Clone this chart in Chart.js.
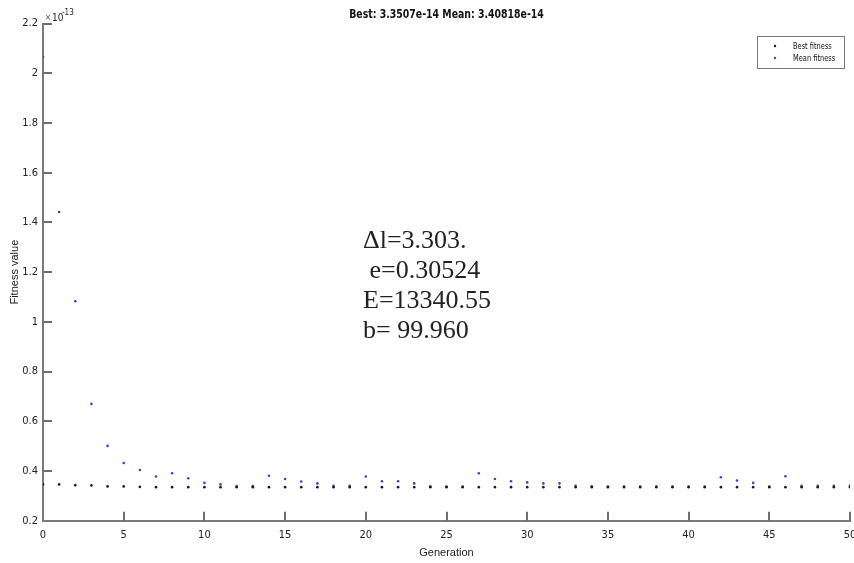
<!DOCTYPE html>
<html>
<head>
<meta charset="utf-8">
<script src="https://cdn.jsdelivr.net/npm/chart.js"></script>
<style>
  html, body { margin: 0; padding: 0; background: #fff; }
  #wrap { width: 854px; height: 563px; }
</style>
</head>
<body>
<div id="wrap"><canvas id="myChart" width="854" height="563"></canvas></div>
<script>
'use strict';

// generations 0..50
var generations = [0,1,2,3,4,5,6,7,8,9,10,11,12,13,14,15,16,17,18,19,20,
  21,22,23,24,25,26,27,28,29,30,31,32,33,34,35,36,37,38,39,40,
  41,42,43,44,45,46,47,48,49,50];

// fitness values, in units of 1e-13
var bestFitness = [0.346,0.346,0.343,0.342,0.338,0.338,0.336,0.335,0.335,0.335,0.335,
  0.335,0.335,0.335,0.335,0.335,0.335,0.335,0.335,0.335,0.335,
  0.335,0.335,0.335,0.335,0.335,0.335,0.335,0.335,0.335,0.335,
  0.335,0.335,0.335,0.335,0.335,0.335,0.335,0.335,0.335,0.335,
  0.335,0.335,0.335,0.335,0.335,0.335,0.335,0.335,0.335,0.335];
var meanFitness = [2.066,1.442,1.083,0.670,0.501,0.432,0.404,0.378,0.391,0.371,0.352,
  0.346,0.339,0.339,0.381,0.368,0.358,0.350,0.340,0.340,0.378,
  0.359,0.359,0.350,0.338,0.337,0.337,0.391,0.368,0.359,0.354,
  0.350,0.350,0.340,0.338,0.337,0.337,0.337,0.337,0.337,0.337,
  0.337,0.375,0.362,0.352,0.337,0.379,0.340,0.340,0.340,0.341];

var seriesNames = ['Best fitness', 'Mean fitness'];
var seriesColors = ['#1a1a1a', '#4040c4'];
var yTicks = [0.2,0.4,0.6,0.8,1,1.2,1.4,1.6,1.8,2,2.2];
var xTicks = [0,5,10,15,20,25,30,35,40,45,50];
var titleText = 'Best: 3.3507e-14 Mean: 3.40818e-14';
var noteLines = ['\u0394l=3.303.', ' e=0.30524', 'E=13340.55', 'b= 99.960'];

var narrow = '"Liberation Sans Narrow", "DejaVu Sans Condensed", "Liberation Sans", sans-serif';

function toPoints(ys) {
  return generations.map(function (g, i) { return {x: g, y: ys[i]}; });
}

// draw text squeezed horizontally (matlab's narrow figure font)
function squeezed(c, s, x, y, k, align) {
  c.save();
  c.translate(x, y);
  c.scale(k, 1);
  c.textAlign = align || 'left';
  c.fillText(s, 0, 0);
  c.restore();
}

// inward tick marks, exponent and title
var innerTicks = {
  id: 'innerTicks',
  afterDraw: function (chart) {
    var c = chart.ctx, a = chart.chartArea;
    var xs = chart.scales.x, ys = chart.scales.y;
    c.save();
    c.strokeStyle = '#6e6e6e';
    c.lineWidth = 2;
    c.beginPath();
    xs.ticks.forEach(function (t) {
      var px = Math.round(xs.getPixelForValue(t.value));
      if (t.value === xs.min) return;
      c.moveTo(px, a.bottom);
      c.lineTo(px, a.bottom - 9);
    });
    ys.ticks.forEach(function (t) {
      var py = Math.round(ys.getPixelForValue(t.value));
      if (t.value === ys.min) return;
      c.moveTo(a.left, py);
      c.lineTo(a.left + 9, py);
    });
    c.stroke();

    // exponent label
    c.fillStyle = '#555';
    c.font = '10px "Liberation Sans", sans-serif';
    c.textBaseline = 'alphabetic';
    c.fillText('\u00d7', a.left + 2, 21);
    c.fillStyle = '#222';
    c.font = '10px ' + narrow;
    c.fillText('10', a.left + 9, 21);
    c.font = '8px ' + narrow;
    c.fillText('-13', a.left + 19, 15);

    // title
    c.fillStyle = '#111';
    c.font = 'bold 13px ' + narrow;
    c.textBaseline = 'middle';
    squeezed(c, titleText, (a.left + a.right) / 2, 14.5, 0.8, 'center');
    c.restore();
  }
};

// legend box inside the axes (north east)
var innerLegend = {
  id: 'innerLegend',
  afterDraw: function (chart) {
    var c = chart.ctx;
    var bx = 757, by = 36, bw = 87, bh = 32;
    c.save();
    c.fillStyle = '#fff';
    c.fillRect(bx, by, bw, bh);
    c.strokeStyle = '#7a7a7a';
    c.lineWidth = 1;
    c.strokeRect(bx + 0.5, by + 0.5, bw, bh);
    c.font = '9px ' + narrow;
    c.textBaseline = 'middle';
    chart.data.datasets.forEach(function (ds, i) {
      var yy = by + 11 + i * 12;
      c.fillStyle = ds.backgroundColor;
      c.beginPath();
      c.arc(bx + 18, yy - 1, 1.2, 0, Math.PI * 2);
      c.fill();
      c.fillStyle = '#111';
      squeezed(c, ds.label, bx + 36, yy, 0.82);
    });
    c.restore();
  }
};

// text note in the middle of the axes
var noteText = {
  id: 'noteText',
  afterDraw: function (chart) {
    var c = chart.ctx;
    c.save();
    c.fillStyle = '#222';
    c.font = '26px "Liberation Serif", "Times New Roman", serif';
    c.textBaseline = 'alphabetic';
    noteLines.forEach(function (s, i) {
      c.fillText(s, 363, 248 + i * 30);
    });
    c.restore();
  }
};

var ctx = document.getElementById('myChart').getContext('2d');
var myChart = new Chart(ctx, {
  type: 'scatter',
  data: {
    datasets: [{
      label: seriesNames[0],
      data: toPoints(bestFitness),
      backgroundColor: seriesColors[0],
      borderColor: seriesColors[0],
      pointRadius: 1.3,
      pointBorderWidth: 0
    }, {
      label: seriesNames[1],
      data: toPoints(meanFitness),
      backgroundColor: seriesColors[1],
      borderColor: seriesColors[1],
      pointRadius: 1.3,
      pointBorderWidth: 0
    }]
  },
  options: {
    responsive: false,
    animation: false,
    devicePixelRatio: 1,
    layout: { padding: { left: 0, right: 1, top: 23.6, bottom: 0 } },
    plugins: {
      legend: { display: false },
      tooltip: { enabled: false },
      title: { display: false }
    },
    scales: {
      x: {
        type: 'linear',
        min: 0,
        max: 50,
        afterBuildTicks: function (s) { s.ticks = xTicks.map(function (v) { return {value: v}; }); },
        afterFit: function (s) { s.height = 42.3; s.paddingLeft = 0; s.paddingRight = 0; },
        grid: { display: false, drawTicks: false },
        border: { display: true, color: '#7a7a7a', width: 2 },
        ticks: {
          padding: 8,
          color: '#222',
          maxRotation: 0,
          font: { family: narrow, size: 11 }
        },
        title: {
          display: true,
          text: 'Generation',
          color: '#222',
          font: { family: '"Liberation Sans", Arial, sans-serif', size: 11 },
          padding: { top: 0, bottom: 3.4 }
        }
      },
      y: {
        type: 'linear',
        min: 0.2,
        max: 2.2,
        afterBuildTicks: function (s) { s.ticks = yTicks.map(function (v) { return {value: v}; }); },
        afterFit: function (s) { s.width = 43; s.paddingTop = 0; s.paddingBottom = 0; },
        grid: { display: false, drawTicks: false },
        border: { display: true, color: '#7a7a7a', width: 2 },
        ticks: {
          padding: 5,
          color: '#222',
          font: { family: narrow, size: 11 },
          callback: function (v) { return String(Number(v.toFixed(1))); }
        },
        title: {
          display: true,
          text: 'Fitness value',
          color: '#222',
          font: { family: '"Liberation Sans", Arial, sans-serif', size: 11 },
          padding: { top: 8.4, bottom: 0 }
        }
      }
    }
  },
  plugins: [innerTicks, innerLegend, noteText]
});
</script>
</body>
</html>
